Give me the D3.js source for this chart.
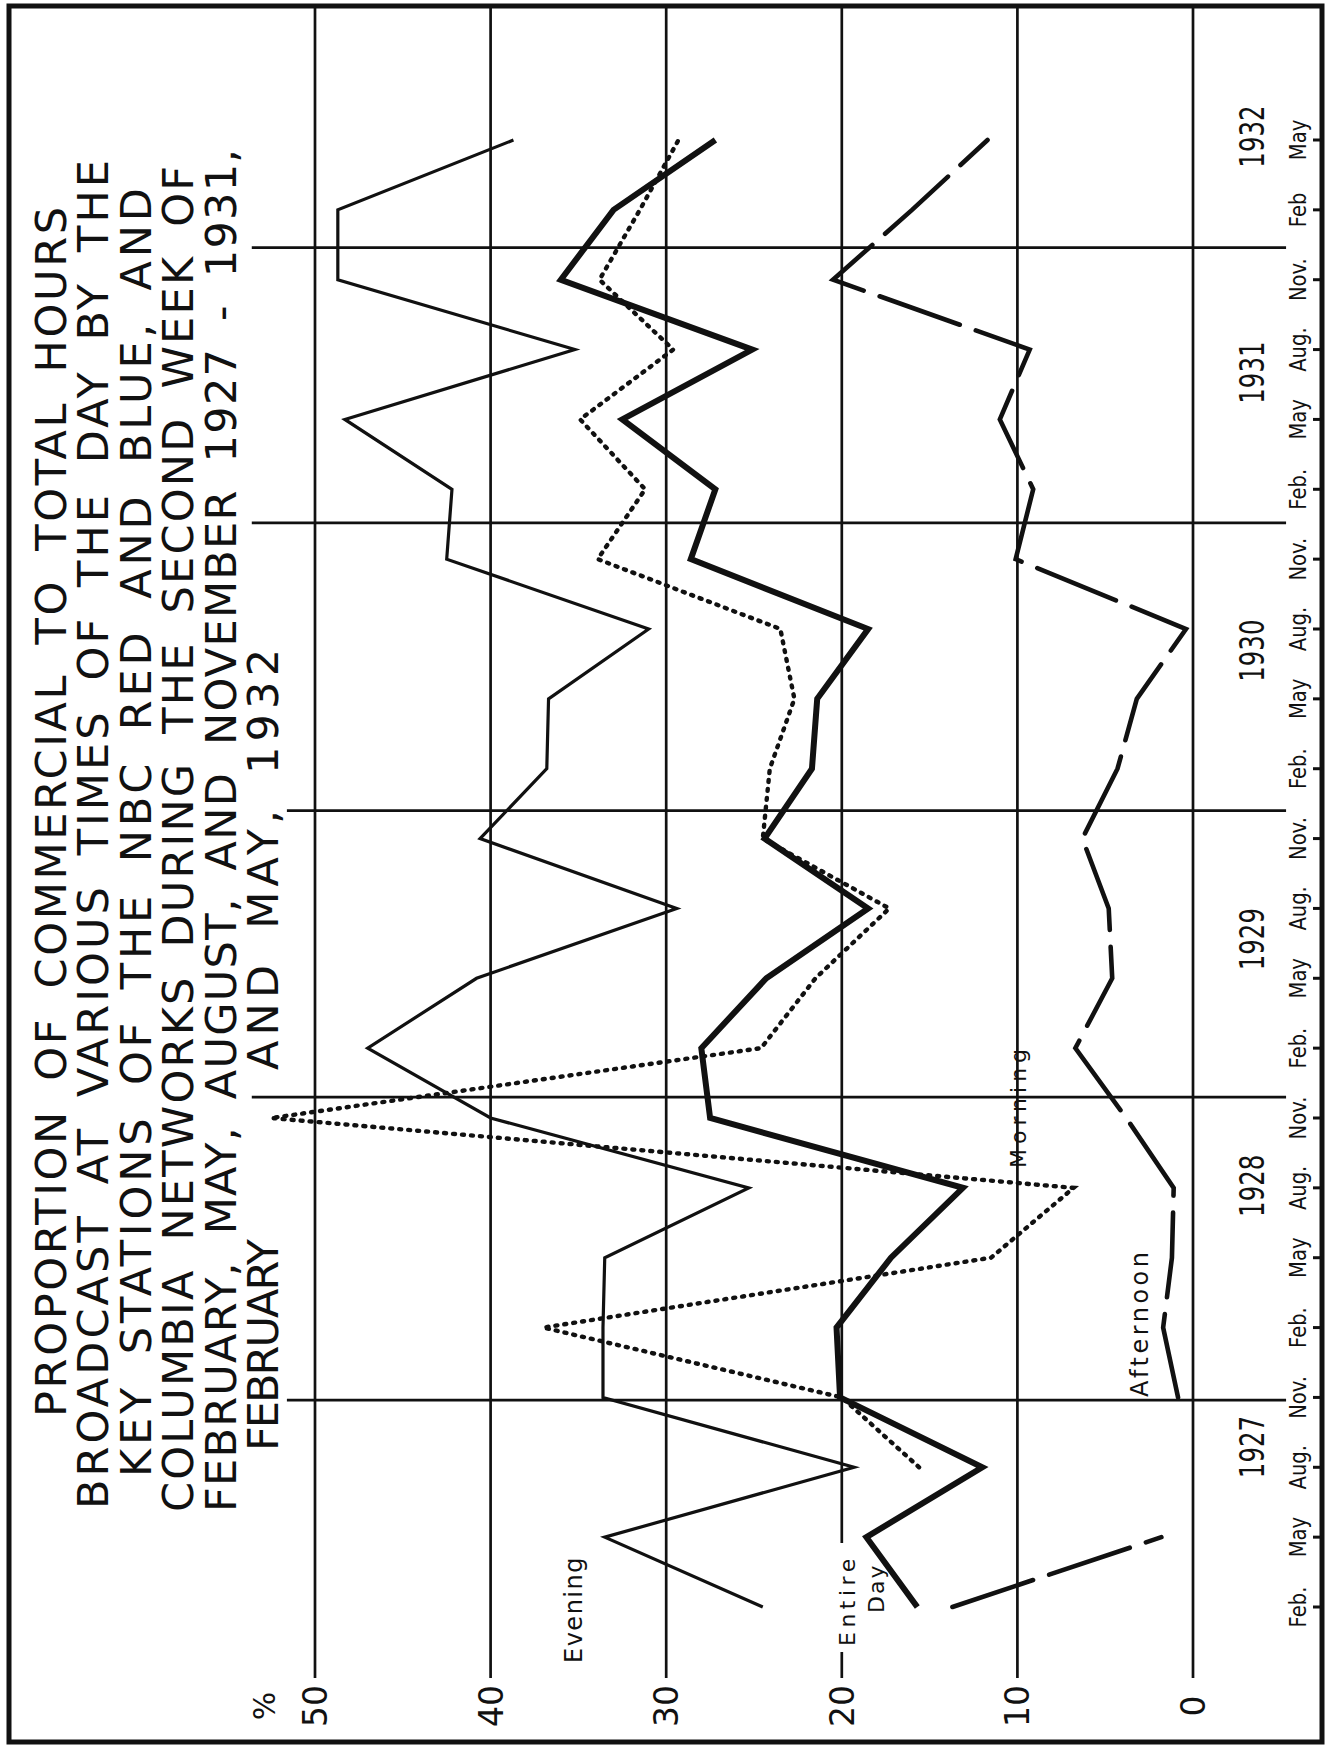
<!DOCTYPE html>
<html>
<head>
<meta charset="utf-8">
<script src="https://cdn.jsdelivr.net/npm/d3@7"></script>
<style>
  body { margin: 0; background: #fff; }
  svg { display: block; background: #fff; }
  text { font-family: "DejaVu Sans", sans-serif; fill: #111; }
</style>
</head>
<body>
<svg id="chart" width="1334" height="1752"></svg>
<script>
// quarterly readings, Feb 1927 .. May 1932 (index 0..21)
const monthLabels = ["Feb.", "May", "Aug.", "Nov.",
                     "Feb.", "May", "Aug.", "Nov.",
                     "Feb.", "May", "Aug.", "Nov.",
                     "Feb.", "May", "Aug.", "Nov.",
                     "Feb.", "May", "Aug.", "Nov.",
                     "Feb", "May"];
const years = ["1927", "1928", "1929", "1930", "1931", "1932"];
const yearLabelAt = [2.29, 6.03, 9.56, 13.69, 17.67, 21.05];
const yearDividers = [2.96, 7.3, 11.4, 15.52, 19.46];
const dividerFrom = [51.6, 53.6, 51.6, 53.6, 53.6];
const valueTicks = [0, 10, 20, 30, 40, 50];

// percent of commercial hours
const evening   = [24.5, 33.5, 19.3, 33.6, 33.6, 33.5, 25.3, 40.0, 47.0, 40.8, 29.4,
                   40.6, 36.8, 36.7, 31.0, 42.5, 42.2, 48.3, 35.2, 48.7, 48.7, 38.7];
const entireDay = [15.7, 18.6, 12.0, 20.1, 20.3, 17.2, 13.1, 27.5, 28.0, 24.3, 18.5,
                   24.4, 21.7, 21.4, 18.5, 28.6, 27.2, 32.5, 25.1, 36.0, 33.0, 27.2];
const morning   = [null, null, 15.6, 20.0, 37.0, 11.5, 6.8, 52.5, 24.6, 21.5, 17.3,
                   24.5, 24.1, 22.7, 23.5, 33.9, 31.2, 34.9, 29.6, 33.8, 31.5, 29.3];
const afternoon = [13.7, 1.8, null, 0.85, 1.7, 1.2, 1.1, 3.8, 6.7, 4.6, 4.8,
                   6.3, 4.3, 3.2, 0.4, 10.1, 9.1, 11.0, 9.3, 20.5, 16.0, 11.7];

const titleLines = [
  "PROPORTION OF COMMERCIAL TO TOTAL HOURS",
  "BROADCAST AT VARIOUS TIMES OF THE DAY BY THE",
  "KEY STATIONS OF THE NBC RED AND BLUE, AND",
  "COLUMBIA NETWORKS DURING THE SECOND WEEK OF",
  "FEBRUARY, MAY, AUGUST, AND NOVEMBER 1927 - 1931,",
  "FEBRUARY",
  "AND MAY, 1932"
];

const ink = "#111";
const svg = d3.select("#chart");

// the sheet is drawn turned on its side: values run right-to-left, time bottom-to-top
const x = d3.scaleLinear().domain([0, 50]).range([1193, 315]);
const y = d3.scaleLinear().domain([0, 21]).range([1607, 140]);

const gridBottom = 1678;

// frame
svg.append("rect")
  .attr("x", 9).attr("y", 6).attr("width", 1313).attr("height", 1736)
  .attr("fill", "none").attr("stroke", ink).attr("stroke-width", 5);

// value grid lines
const grid = svg.append("g").attr("stroke", ink).attr("stroke-width", 2.7);
valueTicks.forEach(v => {
  if (v === 20) {
    // broken by the "Entire Day" label
    grid.append("line").attr("x1", x(v)).attr("x2", x(v)).attr("y1", 8).attr("y2", 1543);
    grid.append("line").attr("x1", x(v)).attr("x2", x(v)).attr("y1", 1652).attr("y2", gridBottom);
  } else {
    grid.append("line").attr("x1", x(v)).attr("x2", x(v)).attr("y1", 8).attr("y2", gridBottom);
  }
});

// year dividers
yearDividers.forEach((d, i) => {
  grid.append("line")
    .attr("x1", x(dividerFrom[i])).attr("x2", x(-5.3))
    .attr("y1", y(d)).attr("y2", y(d));
});

// value axis labels
const axis = svg.append("g")
  .attr("transform", "translate(0,1706)")
  .call(d3.axisBottom(x).tickValues(valueTicks).tickSize(0).tickFormat(d3.format("d")));
axis.select(".domain").remove();
axis.selectAll("text")
  .attr("x", 0).attr("y", 0).attr("dy", "0.35em")
  .attr("text-anchor", "middle")
  .attr("transform", "rotate(-90)")
  .style("font-size", "33px")
  .attr("fill", ink);

svg.append("text")
  .attr("transform", `translate(264,1706) rotate(-90)`)
  .attr("text-anchor", "middle").attr("dy", "0.35em")
  .style("font-size", "30px")
  .text("%");

// time labels on the right edge
svg.append("g").selectAll("text")
  .data(monthLabels)
  .join("text")
  .attr("transform", (d, i) => `translate(1298,${y(i)}) rotate(-90) scale(0.85,1)`)
  .attr("text-anchor", "middle").attr("dy", "0.35em")
  .style("font-size", "23px")
  .text(d => d);

svg.append("g").attr("stroke", ink).attr("stroke-width", 3)
  .selectAll("line")
  .data(monthLabels)
  .join("line")
  .attr("x1", 1313).attr("x2", 1322)
  .attr("y1", (d, i) => y(i)).attr("y2", (d, i) => y(i));

svg.append("g").selectAll("text")
  .data(years)
  .join("text")
  .attr("transform", (d, i) => `translate(1252,${y(yearLabelAt[i])}) rotate(-90) scale(0.72,1)`)
  .attr("text-anchor", "middle").attr("dy", "0.35em")
  .style("font-size", "34px")
  .text(d => d);

// series
const line = d3.line()
  .defined(d => d != null)
  .x(d => x(d))
  .y((d, i) => y(i));

const series = [
  { data: evening,   width: 3.2, dash: null,    cap: "butt" },
  { data: entireDay, width: 6,   dash: null,    cap: "butt" },
  { data: morning,   width: 4.4, dash: "2,7",   cap: "round" },
  { data: afternoon, width: 4.6, dash: "85,17", cap: "round" }
];

series.forEach(s => {
  svg.append("path")
    .datum(s.data)
    .attr("fill", "none")
    .attr("stroke", ink)
    .attr("stroke-width", s.width)
    .attr("stroke-linejoin", "miter")
    .attr("stroke-linecap", s.cap)
    .attr("stroke-dasharray", s.dash)
    .attr("d", line);
});

// series names written along the lines
function label(txt, cx, cy, size, spacing) {
  svg.append("text")
    .attr("transform", `translate(${cx},${cy}) rotate(-90)`)
    .attr("dy", "0.35em")
    .style("font-size", size + "px")
    .style("letter-spacing", spacing + "px")
    .text(txt);
}
label("Evening", 574, 1663, 24, 1.5);
label("Entire", 847, 1646, 22, 4.5);
label("Day", 876, 1613, 22, 2);
label("Morning", 1018, 1168, 22, 5);
label("Afternoon", 1140, 1397, 24, 3.5);

// title, rotated with the sheet
const titleRows = [
  { cx: 51,  y0: 1417, y1: 207 },
  { cx: 93,  y0: 1509, y1: 160 },
  { cx: 136, y0: 1477, y1: 188 },
  { cx: 178, y0: 1512, y1: 166 },
  { cx: 221, y0: 1512, y1: 149 },
  { cx: 263, y0: 1451, y1: 1239 },
  { cx: 263, y0: 1070, y1: 649 }
];
titleLines.forEach((t, i) => {
  const r = titleRows[i];
  svg.append("text")
    .attr("transform", `translate(${r.cx},${r.y0}) rotate(-90)`)
    .attr("dy", "0.36em")
    .attr("textLength", r.y0 - r.y1)
    .attr("lengthAdjust", "spacing")
    .style("font-size", "43px")
    .style("word-spacing", "12px")
    .text(t);
});
</script>
</body>
</html>
